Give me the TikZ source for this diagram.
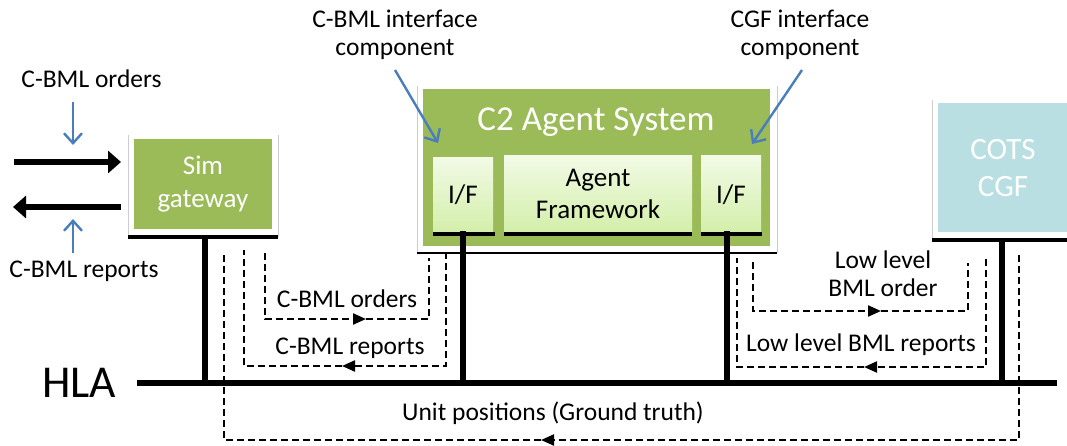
\documentclass[tikz,border=0pt]{standalone}
\usepackage{fontspec}
\setmainfont{Carlito}
\usetikzlibrary{arrows.meta}

\definecolor{olive}{HTML}{9BBB59}
\definecolor{cotsblue}{HTML}{B9DFE2}
\definecolor{callout}{HTML}{4A7EBB}
\definecolor{framegray}{HTML}{CCCCCC}
\definecolor{iftop}{HTML}{F2FAE6}
\definecolor{ifbot}{HTML}{D3EFAA}

\tikzset{
  txt/.style={inner sep=0pt, align=center, font=\fontsize{25.5}{28}\selectfont},
  greenbox/.style={fill=olive, draw=none, inner sep=0pt, align=center, text=white},
  innerbox/.style={top color=iftop, bottom color=ifbot, draw=none, inner sep=0pt,
    align=center, font=\fontsize{27}{32}\selectfont},
  framebox/.style={fill=white},
  frameedge/.style={draw=framegray, line width=0.8pt},
  basebar/.style={line width=3.8pt},
  thinbar/.style={line width=2.2pt},
  bus/.style={line width=5.6pt},
  flow/.style={line width=2.2pt, dash pattern=on 7pt off 4pt},
  flowtip/.style={-{Triangle[length=13pt,width=11pt]}},
  bigarrow/.style={line width=6.5pt, -{Triangle[length=13pt,width=22pt]}},
  callarrow/.style={draw=callout, line width=2.4pt, -{Straight Barb[length=10pt,width=18pt]}},
}

\begin{document}
\begin{tikzpicture}[x=1pt,y=-1pt]
\useasboundingbox (0,0) rectangle (1067,445);

% ---------- white frames behind the three systems ----------
\fill[framebox] (128,135) rectangle (278,237);
\draw[frameedge] (128,135) -- (128,237) (278,135) -- (278,237);
\fill[framebox] (417,86) rectangle (777,253);
\draw[frameedge] (417,86) -- (417,253) (777,86) -- (777,253);
\fill[framebox] (932,100) rectangle (1067,240);
\draw[frameedge] (932,100) -- (932,240);

% ---------- systems ----------
\node[greenbox, minimum width=138pt, minimum height=90pt,
      font=\fontsize{27}{33}\selectfont] (sim) at (203,184) {Sim\\gateway};

\node[greenbox, minimum width=347pt, minimum height=157pt] (c2) at (596.5,167.5) {};
\node[txt, anchor=base, text=white, font=\fontsize{35}{40}\selectfont] (c2title) at (596,130) {C2 Agent System};

\node[innerbox, minimum width=60pt, minimum height=75pt] (ifl) at (463,194.5) {};
\node[txt, anchor=base, font=\fontsize{27}{32}\selectfont] (ifltext) at (463,203) {I/F};
\node[innerbox, minimum width=188pt, minimum height=77pt] (agent) at (598,193.5) {};
\node[txt, font=\fontsize{27}{32}\selectfont] (agenttext) at (598,193.5) {Agent\\Framework};
\node[innerbox, minimum width=60pt, minimum height=77pt] (ifr) at (731,193.5) {};
\node[txt, anchor=base, font=\fontsize{27}{32}\selectfont] (ifrtext) at (731,203) {I/F};

\node[fill=cotsblue, inner sep=0pt, minimum width=130pt, minimum height=129pt] (cots) at (1003,167.5) {};
\node[txt, text=white, font=\fontsize{31}{37}\selectfont] (cotstext) at (1003,168.5) {COTS\\CGF};

% ---------- base bars and taps ----------
\coordinate (simbarL) at (128,237);  \coordinate (simbarR) at (278,237);
\coordinate (c2barL)  at (417,253);  \coordinate (c2barR)  at (777,253);
\coordinate (cotsbarL) at (932,240); \coordinate (cotsbarR) at (1067,240);
\coordinate (iflbarL) at (433,234);  \coordinate (iflbarR) at (495,234);
\coordinate (agbarL)  at (504,234);  \coordinate (agbarR)  at (692,234);
\coordinate (ifrbarL) at (701,234);  \coordinate (ifrbarR) at (762,234);

\draw[basebar] (simbarL) -- (simbarR);
\draw[thinbar] (c2barL) -- (c2barR);
\draw[basebar] (cotsbarL) -- (cotsbarR);
\draw[basebar] (iflbarL) -- (iflbarR);
\draw[basebar] (agbarL) -- (agbarR);
\draw[basebar] (ifrbarL) -- (ifrbarR);

% ---------- HLA bus ----------
\coordinate (hlaL) at (137,383);
\coordinate (hlaR) at (1057,383);
\draw[bus] (hlaL) -- (hlaR);
\node[txt, anchor=base, font=\fontsize{45.6}{50}\selectfont] (hla) at (79,397) {HLA};

\coordinate (simtap)  at (205,237);
\coordinate (ifltap)  at (463,231);
\coordinate (ifrtap)  at (727,231);
\coordinate (cotstap) at (1002,240);
\draw[bus] (simtap) -- (simtap |- hlaL);
\draw[bus] (ifltap) -- (ifltap |- hlaL);
\draw[bus] (ifrtap) -- (ifrtap |- hlaL);
\draw[bus] (cotstap) -- (cotstap |- hlaL);

% ---------- C-BML in/out at the gateway ----------
\coordinate (inTail) at (14,162);   \coordinate (inTip) at (121,162);
\coordinate (outTail) at (121,207); \coordinate (outTip) at (13,207);
\draw[bigarrow] (inTail) -- (inTip);
\draw[bigarrow] (outTail) -- (outTip);

\node[txt, anchor=base] (ordersin) at (91.5,87) {C-BML orders};
\node[txt, anchor=base] (reportsout) at (84,277) {C-BML reports};
\coordinate (ordTail) at (73,102);  \coordinate (ordTip) at (73,145);
\coordinate (repTail) at (73,253);  \coordinate (repTip) at (73,219);
\draw[callarrow] (ordTail) -- (ordTip);
\draw[callarrow] (repTail) -- (repTip);

% ---------- interface component callouts ----------
\node[txt] (cbmlif) at (395,34.5) {C-BML interface\\component};
\node[txt] (cgfif) at (800,34.5) {CGF interface\\component};
\coordinate (cbmlifTip) at (438,143);
\coordinate (cgfifTip) at (752,144);
\draw[callarrow] (395,70) -- (cbmlifTip);
\draw[callarrow] (802,70) -- (cgfifTip);

% ---------- message flows ----------
% C-BML orders: gateway -> C2
\coordinate (o1) at (265,253); \coordinate (o2) at (429,258); \coordinate (om) at (366,319);
\draw[flow, flowtip] (o1) |- (om);
\draw[flow] (om) -| (o2);
\node[txt, anchor=base] (ordlbl) at (347,307) {C-BML orders};

% C-BML reports: C2 -> gateway
\coordinate (r1) at (446,252); \coordinate (r2) at (244,250); \coordinate (rm) at (342,366);
\draw[flow, flowtip] (r1) |- (rm);
\draw[flow] (rm) -| (r2);
\node[txt, anchor=base] (replbl) at (350,354) {C-BML reports};

% Low level BML order: C2 -> CGF
\coordinate (l1) at (753,262); \coordinate (l2) at (968,263); \coordinate (lm) at (881,311);
\draw[flow, flowtip] (l1) |- (lm);
\draw[flow] (lm) -| (l2);
\node[txt] (lordlbl) at (883,273.5) {Low level\\BML order};

% Low level BML reports: CGF -> C2
\coordinate (k1) at (986,259); \coordinate (k2) at (737,258); \coordinate (km) at (864,367);
\draw[flow, flowtip] (k1) |- (km);
\draw[flow] (km) -| (k2);
\node[txt, anchor=base] (lreplbl) at (861,351) {Low level BML reports};

% Unit positions: CGF -> gateway
\coordinate (u1) at (1019,255); \coordinate (u2) at (224,252); \coordinate (um) at (541,440);
\draw[flow, flowtip] (u1) |- (um);
\draw[flow] (um) -| (u2);
\node[txt, anchor=base] (unitlbl) at (553,420) {Unit positions (Ground truth)};

\end{tikzpicture}
\end{document}
